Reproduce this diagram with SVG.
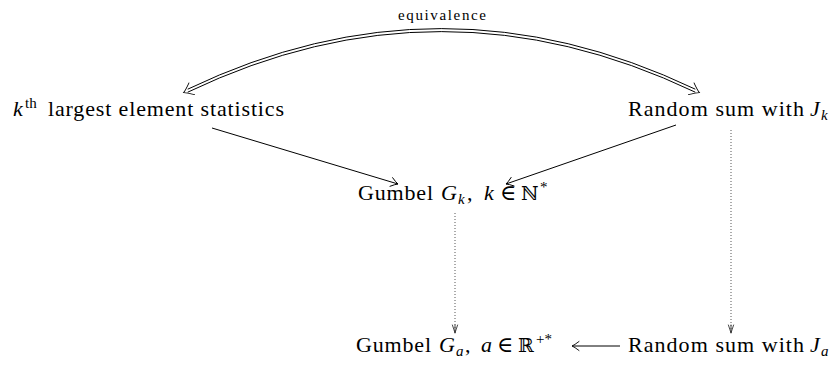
<svg xmlns="http://www.w3.org/2000/svg" width="832" height="365" viewBox="0 0 832 365">
<style>
text{font-family:'Liberation Serif','Times New Roman','DejaVu Serif',serif;fill:#000;font-size:22px}
.it{font-style:italic}
.sm{font-size:15px}
.bb{font-family:'DejaVu Serif',serif;font-size:19px}
.lbl{font-size:15px}
.ln{fill:none;stroke:#000;stroke-width:1}
.dl{fill:none;stroke:#000;stroke-width:1}
.dot{fill:none;stroke:#444;stroke-width:0.9;stroke-dasharray:1 2}
</style>
<defs>
<marker id="ah" markerUnits="userSpaceOnUse" markerWidth="14" markerHeight="14" viewBox="-10 -7 12 14" refX="0" refY="0" orient="auto" overflow="visible">
<path d="M-7,-4.5 Q-2.5,-1 0,0 Q-2.5,1 -7,4.5" fill="none" stroke="#000" stroke-width="0.9" stroke-linecap="round"/>
</marker>
<marker id="dah" markerUnits="userSpaceOnUse" markerWidth="20" markerHeight="20" viewBox="-12 -10 14 20" refX="-1.5" refY="0" orient="auto-start-reverse" overflow="visible">
<path d="M-9,-6.5 Q-3,-1.5 0,0 Q-3,1.5 -9,6.5" fill="none" stroke="#000" stroke-width="0.9" stroke-linecap="round"/>
</marker>
<marker id="sah" markerUnits="userSpaceOnUse" markerWidth="12" markerHeight="12" viewBox="-10 -6 12 12" refX="0" refY="0" orient="auto" overflow="visible">
<path d="M-8,-2.6 Q-2,-0.6 0,0 Q-2,0.6 -8,2.6 M-8,0 L0,0" fill="none" stroke="#333" stroke-width="0.9" stroke-linecap="round"/>
</marker>
</defs>

<g id="connectors">
<text class="lbl" x="398" y="20" textLength="88" lengthAdjust="spacing">equivalence</text>
<path class="dl" d="M187.7,89.2 Q441,-32 695.3,89.2"/>
<path class="dl" d="M187.7,92.2 Q441,-29 695.3,92.2"/>
<path d="M185,92 Q441,-30 698,92" fill="none" stroke="none" marker-start="url(#dah)" marker-end="url(#dah)"/>
<line class="ln" x1="212" y1="128" x2="398" y2="184" marker-end="url(#ah)"/>
<line class="ln" x1="676" y1="125" x2="506" y2="184" marker-end="url(#ah)"/>
<line class="dot" x1="455" y1="213" x2="455" y2="333" marker-end="url(#sah)"/>
<line class="dot" x1="731" y1="130" x2="731" y2="333" marker-end="url(#sah)"/>
<line class="ln" x1="620" y1="346" x2="572" y2="346" marker-end="url(#ah)"/>
</g>

<g id="node-kth">
<text class="it" x="13" y="116">k</text>
<text class="sm" x="25" y="108">th</text>
<text x="48" y="116" textLength="236" lengthAdjust="spacing">largest element statistics</text>
</g>

<g id="node-randomsum-k">
<text x="628" y="116" textLength="176" lengthAdjust="spacing">Random sum with</text>
<text class="it" x="810" y="116">J</text>
<text class="it sm" x="821" y="120">k</text>
</g>

<g id="node-gumbel-k">
<text x="358" y="200" textLength="75" lengthAdjust="spacing">Gumbel</text>
<text class="it" x="441" y="200">G</text>
<text class="it sm" x="458" y="204">k</text>
<text x="467" y="200">,</text>
<text class="it" x="484" y="200">k</text>
<text x="500" y="200">∈</text>
<text class="bb" x="521" y="200">ℕ</text>
<text class="sm" x="540" y="192">*</text>
</g>

<g id="node-gumbel-a">
<text x="356" y="352" textLength="75" lengthAdjust="spacing">Gumbel</text>
<text class="it" x="439" y="352">G</text>
<text class="it sm" x="456" y="356">a</text>
<text x="465" y="352">,</text>
<text class="it" x="481" y="352">a</text>
<text x="497" y="352">∈</text>
<text class="bb" x="518" y="352">ℝ</text>
<text class="sm" x="536" y="344">+*</text>
</g>

<g id="node-randomsum-a">
<text x="628" y="352" textLength="176" lengthAdjust="spacing">Random sum with</text>
<text class="it" x="810" y="352">J</text>
<text class="it sm" x="821" y="356">a</text>
</g>
</svg>
